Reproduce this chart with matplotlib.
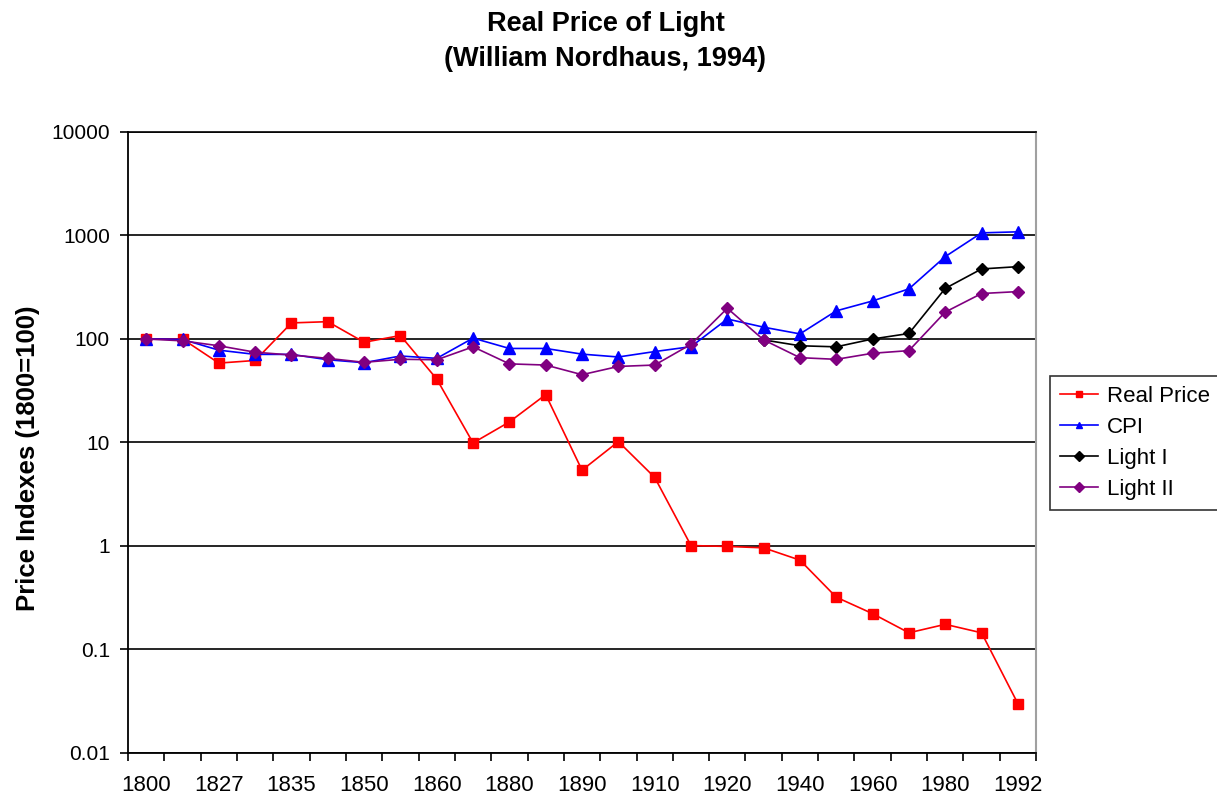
import numpy as np
import matplotlib
matplotlib.use("Agg")
import matplotlib.pyplot as plt
from matplotlib.ticker import FixedLocator, FixedFormatter, NullFormatter

years = ["1800", "1818", "1827", "1830", "1835", "1840", "1850", "1855", "1860",
         "1870", "1880", "1883", "1890", "1900", "1910", "1916", "1920", "1930",
         "1940", "1950", "1960", "1970", "1980", "1990", "1992"]

real_price = [100, 100, 58.5, 62, 143, 147, 93, 108, 41, 9.9, 15.8, 29, 5.4, 10.2,
              4.6, 1.01, 0.99, 0.96, 0.73, 0.32, 0.222, 0.145, 0.175, 0.145, 0.030]

cpi = [100, 99, 78, 71, 71, 63, 59, 68.5, 65, 102, 81, 81, 71.4, 67, 75.6, 84.3,
       156, 130, 112, 187, 233, 305, 625, 1060, 1085]

light_1 = [np.nan] * 17 + [98, 86, 84, 100, 113, 308, 475, 500]

light_2 = [100, 96, 86, 74.5, 70, 65, 59.5, 63.7, 63, 84, 57.5, 56, 45.2, 54.3, 56,
           88.8, 198, 98, 66, 63.6, 72.8, 77.2, 182, 275, 287]

y_ticks = [0.01, 0.1, 1, 10, 100, 1000, 10000]
y_tick_labels = ["0.01", "0.1", "1", "10", "100", "1000", "10000"]

plt.rcParams['font.family'] = ['Liberation Sans', 'DejaVu Sans']

fig = plt.figure(figsize=(12.17, 7.98), dpi=100)
ax = fig.add_axes([0.1052, 0.0564, 0.7461, 0.7782])

x = np.arange(len(years))
ax.plot(x, real_price, color="#FF0000", lw=1.2, marker="s", ms=7, mec="#FF0000",
        mfc="#FF0000", label="Real Price", zorder=3)
ax.plot(x, cpi, color="#0000FF", lw=1.2, marker="^", ms=8, mec="#0000FF",
        mfc="#0000FF", label="CPI", zorder=3)
ax.plot(x, light_1, color="#000000", lw=1.2, marker="D", ms=6, mec="#000000",
        mfc="#000000", label="Light I", zorder=3)
ax.plot(x, light_2, color="#800080", lw=1.2, marker="D", ms=6, mec="#800080",
        mfc="#800080", label="Light II", zorder=4)

ax.set_yscale("log")
ax.set_ylim(0.01, 10000)
ax.set_xlim(-0.5, len(years) - 0.5)

ax.yaxis.set_major_locator(FixedLocator(y_ticks))
ax.yaxis.set_major_formatter(FixedFormatter(y_tick_labels))
ax.yaxis.set_minor_locator(FixedLocator([]))
ax.yaxis.grid(True, which="major", color="#000000", lw=1.2)
ax.set_axisbelow(True)

ax.xaxis.set_major_locator(FixedLocator(np.arange(-0.5, len(years), 1.0)))
ax.xaxis.set_major_formatter(NullFormatter())
ax.xaxis.set_minor_locator(FixedLocator(x[::2]))
ax.xaxis.set_minor_formatter(FixedFormatter(years[::2]))
ax.tick_params(axis="x", which="major", direction="out", length=6, width=1.2, color="black")
ax.tick_params(axis="x", which="minor", length=0, labelsize=16, pad=16)
ax.tick_params(axis="y", which="major", direction="out", length=6, width=1.2,
               labelsize=15, pad=7)

for s in ["left", "bottom"]:
    ax.spines[s].set_color("black")
    ax.spines[s].set_linewidth(1.3)
ax.spines["right"].set_color("#A0A0A0")
ax.spines["right"].set_linewidth(1.5)
ax.spines["top"].set_color("#000000")
ax.spines["top"].set_linewidth(1.2)

fig.text(0.023, 0.426, "Price Indexes (1800=100)", rotation=90, fontsize=18.5,
         fontweight="bold", ha="center", va="center")
fig.text(0.4975, 0.961, "Real Price of Light", fontsize=19.5, fontweight="bold",
         ha="center", va="baseline")
fig.text(0.4975, 0.917, "(William Nordhaus, 1994)", fontsize=19.5, fontweight="bold",
         ha="center", va="baseline")

leg = fig.legend(loc="upper left", bbox_to_anchor=(0.8628, 0.529), fontsize=16,
                 frameon=True, fancybox=False, edgecolor="black", handlelength=1.7,
                 handletextpad=0.4, borderpad=0.45, labelspacing=0.45, borderaxespad=0)
leg.get_frame().set_linewidth(1.2)
for h in leg.legend_handles:
    h.set_markersize(5)

fig.savefig("out.png", dpi=100)
